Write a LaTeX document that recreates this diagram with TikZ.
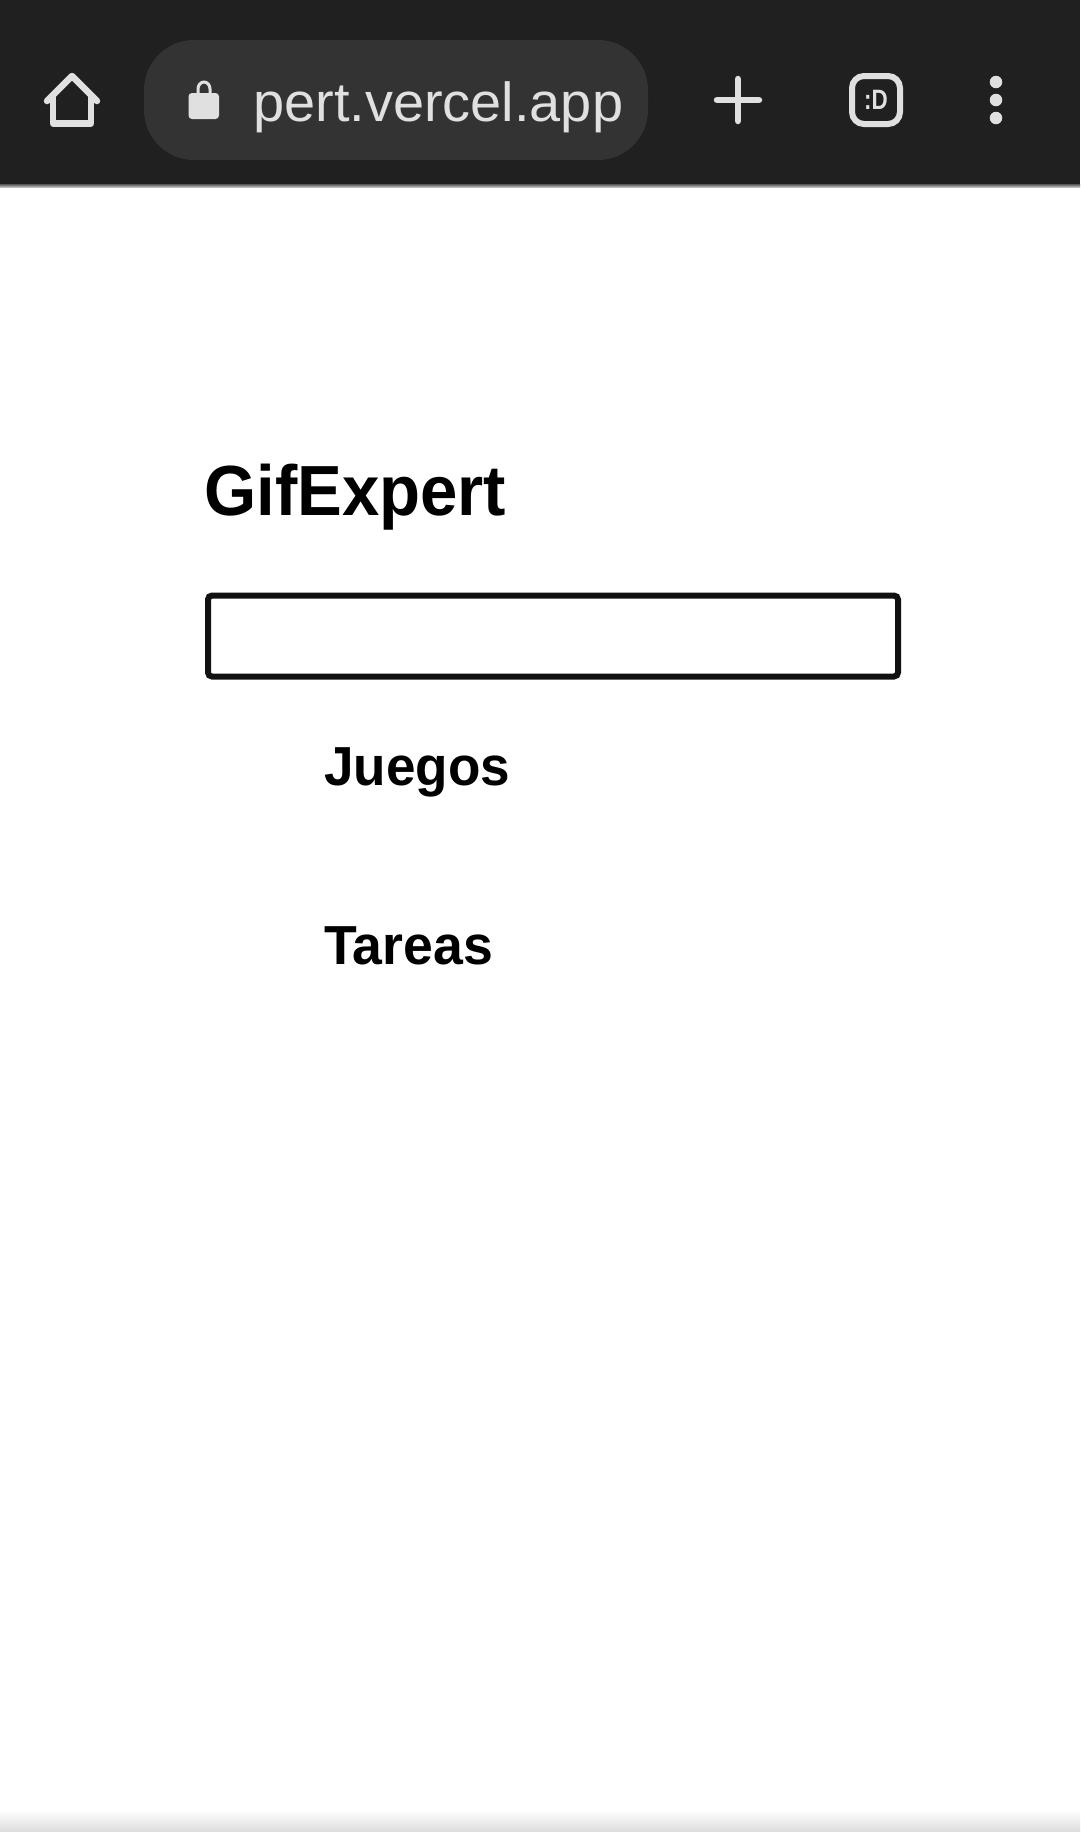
\documentclass[tikz,border=0pt]{standalone}
\usepackage{fontspec}
\setmainfont{Liberation Sans}
\definecolor{barbg}{HTML}{202020}
\definecolor{pillbg}{HTML}{333333}
\definecolor{barfg}{HTML}{E0E0E0}
\definecolor{barline}{HTML}{555555}
\definecolor{inkblack}{HTML}{111111}
\tikzset{
    icon/.style={draw=barfg, line width=6.5pt, line cap=round, line join=round},
    pagetext/.style={anchor=base west, inner sep=0pt, text=black, transform shape, font=\bfseries\fontsize{#1}{#1}\selectfont},
}

\begin{document}
\begin{tikzpicture}[x=1pt,y=-1pt]
\useasboundingbox (0,0) rectangle (1080,1832);
\fill [white] (0,0) rectangle (1080,1832);
\fill [barbg] (0,0) rectangle (1080,184);
\shade [top color=barline, bottom color=barline!40] (0,184) rectangle (1080,187);
\shade [top color=white, bottom color=black!14] (0,1810) rectangle (1080,1832);

% address bar
\node [fill=pillbg, rounded corners=50pt, minimum width=504pt, minimum height=120pt, inner sep=0pt] (pill) at (396,100) {};
\fill [barfg, rounded corners=3.5pt] (188.5,93) rectangle (219,119);
\draw [barfg, line width=3pt] (198,95) -- (198,89) arc (180:360:6 and 7) -- (210,95);
\node [anchor=base west, inner sep=0pt, text=barfg, transform shape, xscale=1.017, font=\fontsize{55}{55}\selectfont] (url) at (253,121) {pert.vercel.app};

% toolbar icons
\draw [icon] (47,101) -- (72,76) -- (97,101);
\draw [icon] (53,97) -- (53,123.5) -- (91,123.5) -- (91,97);
\draw [icon] (717,100) -- (759,100);
\draw [icon] (738,79) -- (738,121);
\node [draw=barfg, line width=6pt, rounded corners=12pt, minimum size=48pt, inner sep=0pt] (tabs) at (876,100) {};
\node [text=barfg, inner sep=0pt, transform shape, xscale=0.8, font=\bfseries\fontsize{28}{28}\selectfont] (tabface) at (876,100) {:D};
\foreach \dy/\name in {82/dota, 100/dotb, 118/dotc}
    \node [circle, fill=barfg, minimum size=12.5pt, inner sep=0pt] (\name) at (996,\dy) {};

% page
\node [pagetext=71, xscale=0.945] (title) at (204,515) {GifExpert};
\node [draw=inkblack, line width=6pt, rounded corners=4pt, minimum width=690pt, minimum height=81pt, inner sep=0pt] (search) at (553,636) {};
\node [pagetext=55, xscale=0.965] (juegos) at (324,785) {Juegos};
\node [pagetext=55, xscale=0.975] (tareas) at (324,964) {Tareas};
\end{tikzpicture}
\end{document}
